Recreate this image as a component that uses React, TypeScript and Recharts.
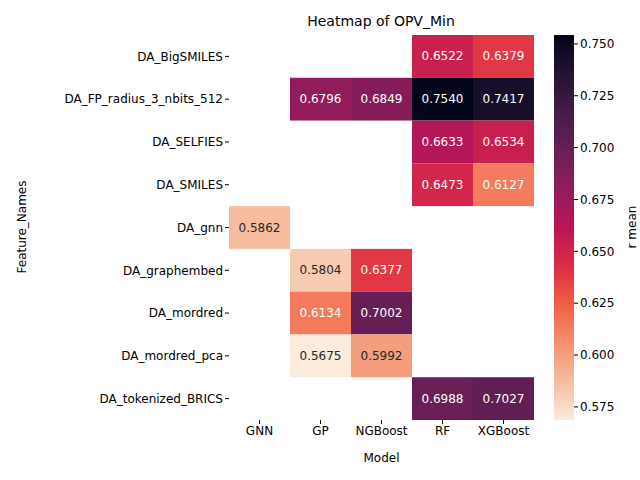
import { ScatterChart, Scatter, XAxis, YAxis, ComposedChart, Bar, Customized } from 'recharts';

const models = ['GNN', 'GP', 'NGBoost', 'RF', 'XGBoost'];
const features = [
  'DA_BigSMILES',
  'DA_FP_radius_3_nbits_512',
  'DA_SELFIES',
  'DA_SMILES',
  'DA_gnn',
  'DA_graphembed',
  'DA_mordred',
  'DA_mordred_pca',
  'DA_tokenized_BRICS',
];
// [feature, model, value]
const cells: [string, string, number][] = [
  ['DA_BigSMILES', 'RF', 0.6522],
  ['DA_BigSMILES', 'XGBoost', 0.6379],
  ['DA_FP_radius_3_nbits_512', 'GP', 0.6796],
  ['DA_FP_radius_3_nbits_512', 'NGBoost', 0.6849],
  ['DA_FP_radius_3_nbits_512', 'RF', 0.754],
  ['DA_FP_radius_3_nbits_512', 'XGBoost', 0.7417],
  ['DA_SELFIES', 'RF', 0.6633],
  ['DA_SELFIES', 'XGBoost', 0.6534],
  ['DA_SMILES', 'RF', 0.6473],
  ['DA_SMILES', 'XGBoost', 0.6127],
  ['DA_gnn', 'GNN', 0.5862],
  ['DA_graphembed', 'GP', 0.5804],
  ['DA_graphembed', 'NGBoost', 0.6377],
  ['DA_mordred', 'GP', 0.6134],
  ['DA_mordred', 'NGBoost', 0.7002],
  ['DA_mordred_pca', 'GP', 0.5675],
  ['DA_mordred_pca', 'NGBoost', 0.5992],
  ['DA_tokenized_BRICS', 'RF', 0.6988],
  ['DA_tokenized_BRICS', 'XGBoost', 0.7027],
];
const barTicks = [0.575, 0.6, 0.625, 0.65, 0.675, 0.7, 0.725, 0.75];

const VMIN = 0.5675;
const VMAX = 0.754;
const BAR_LO = 0.5687;
const BAR_HI = 0.7543;
// rocket_r stops, light -> dark
const STOPS = ['#FAEBDD', '#F6BC9F', '#F5916E', '#F06043', '#DD2C45', '#B91657', '#921C5B', '#6A1F56', '#451C47', '#221331', '#03051A'];

function hex(c: string) {
  return [1, 3, 5].map(i => parseInt(c.slice(i, i + 2), 16));
}
function colorFor(v: number) {
  const t = Math.max(0, Math.min(1, (v - VMIN) / (VMAX - VMIN))) * (STOPS.length - 1);
  const i = Math.min(STOPS.length - 2, Math.floor(t));
  const f = t - i;
  const a = hex(STOPS[i]);
  const b = hex(STOPS[i + 1]);
  const m = a.map((x, k) => Math.round(x + (b[k] - x) * f));
  return `rgb(${m[0]},${m[1]},${m[2]})`;
}

// invisible points that fix the category order on both axes
const order = features.map((f, i) => ({ feature: f, model: models[i % models.length] }));
const data = cells.map(([f, m, v]) => ({ feature: f, model: m, value: v }));
const font = 'DejaVu Sans, sans-serif';
const CW = 305 / models.length;
const CH = 385 / features.length;

const Cell = (p: any) => {
  const v = p.payload.value;
  return (
    <g>
      <rect x={p.cx - CW / 2} y={p.cy - CH / 2} width={CW} height={CH} fill={colorFor(v)} />
      <text x={p.cx} y={p.cy} dy={4} textAnchor="middle" fontSize={12} fontFamily={font} fill={v > 0.605 ? '#fff' : '#262626'}>
        {v.toFixed(4)}
      </text>
    </g>
  );
};

export default function App() {
  const tickStyle = { fontSize: 12, fill: '#000', fontFamily: font };
  return (
    <div style={{ position: 'absolute', left: 0, top: 0, width: 640, height: 480, background: '#fff' }}>
      <div style={{ position: 'absolute', left: 0, top: 0 }}>
        <ScatterChart width={640} height={480} margin={{ top: 35, right: 106, bottom: 0, left: 0 }}>
          <XAxis dataKey="model" type="category" allowDuplicatedCategory={false}
            tick={tickStyle} tickSize={4} axisLine={false} stroke="#000" height={60}
            label={{ value: 'Model', position: 'insideBottom', offset: 18, fontSize: 12, fill: '#000', fontFamily: font }} />
          <YAxis dataKey="feature" type="category" allowDuplicatedCategory={false}
            tick={tickStyle} tickSize={4} axisLine={false} stroke="#000" width={229} reversed />
          <Scatter data={order} shape={() => <g />} isAnimationActive={false} />
          <Scatter data={data} shape={<Cell />} isAnimationActive={false} />
          <Customized component={() => (
            <g fontFamily={font}>
              <text x={381} y={26} textAnchor="middle" fontSize={14}>Heatmap of OPV_Min</text>
              <text x={26} y={227} textAnchor="middle" fontSize={12} transform="rotate(-90 26 227)">Feature_Names</text>
            </g>
          )} />
        </ScatterChart>
      </div>
      <div style={{ position: 'absolute', left: 554, top: 0 }}>
        <ComposedChart width={86} height={480} data={[{ x: 'bar', range: [BAR_LO, BAR_HI] }]}
          margin={{ top: 35, right: 0, bottom: 60, left: 0 }} barCategoryGap={0}>
          <defs>
            <linearGradient id="cbar" x1="0" y1="1" x2="0" y2="0">
              {STOPS.map((c, i) => (
                <stop key={i} offset={`${(i / (STOPS.length - 1)) * 100}%`} stopColor={c} />
              ))}
            </linearGradient>
          </defs>
          <XAxis dataKey="x" hide />
          <YAxis orientation="right" type="number" domain={[BAR_LO, BAR_HI]} ticks={barTicks} width={66}
            allowDataOverflow tickFormatter={(v: number) => v.toFixed(3)} tick={tickStyle} tickSize={4} axisLine={false} stroke="#000" />
          <Bar dataKey="range" fill="url(#cbar)" isAnimationActive={false} />
          <Customized component={() => (
            <text x={82} y={227} textAnchor="middle" fontSize={12} fontFamily={font} transform="rotate(-90 82 227)">r mean</text>
          )} />
        </ComposedChart>
      </div>
    </div>
  );
}
